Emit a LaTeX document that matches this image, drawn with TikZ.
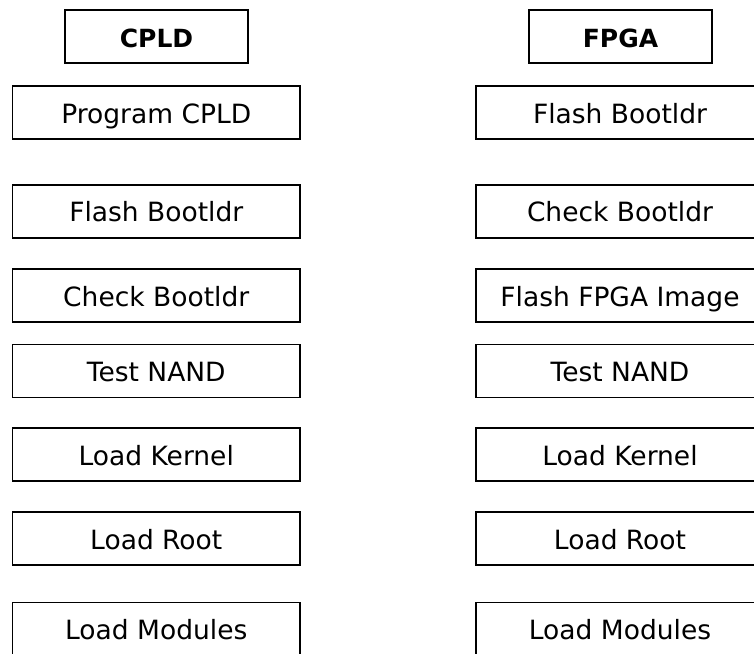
\documentclass[tikz,border=0pt]{standalone}
\usepackage{fontspec}
\setmainfont{DejaVu Sans}
\begin{document}
\begin{tikzpicture}[x=1pt,y=-1pt,
  stepbox/.style={draw=black,line width=1.6pt,inner sep=0pt,
    minimum width=287.5pt,minimum height=53pt,
    text height=21pt,text depth=0pt,font=\fontsize{26.5}{30}\selectfont},
  headbox/.style={stepbox,minimum width=183pt,
    font=\fontsize{25}{30}\selectfont\bfseries}]
\useasboundingbox (0,0) rectangle (754,653);
\clip (0,0) rectangle (754,653);
% column headers
\node[headbox] (hcpld) at (156.5,36.5) {CPLD};
\node[headbox] (hfpga) at (620.5,36.5) {FPGA};
% CPLD sequence
\node[stepbox] (c1) at (156.25,112.5) {Program CPLD};
\node[stepbox] (c2) at (156.25,211.4) {Flash Bootldr};
\node[stepbox] (c3) at (156.25,295.5) {Check Bootldr};
\node[stepbox] (c4) at (156.25,371)   {Test NAND};
\node[stepbox] (c5) at (156.25,454.7) {Load Kernel};
\node[stepbox] (c6) at (156.25,538.7) {Load Root};
\node[stepbox] (c7) at (156.25,629)   {Load Modules};
% FPGA sequence
\node[stepbox] (f1) at (620,112.5) {Flash Bootldr};
\node[stepbox] (f2) at (620,211.4) {Check Bootldr};
\node[stepbox] (f3) at (620,295.5) {Flash FPGA Image};
\node[stepbox] (f4) at (620,371)   {Test NAND};
\node[stepbox] (f5) at (620,454.7) {Load Kernel};
\node[stepbox] (f6) at (620,538.7) {Load Root};
\node[stepbox] (f7) at (620,629)   {Load Modules};
\end{tikzpicture}
\end{document}
